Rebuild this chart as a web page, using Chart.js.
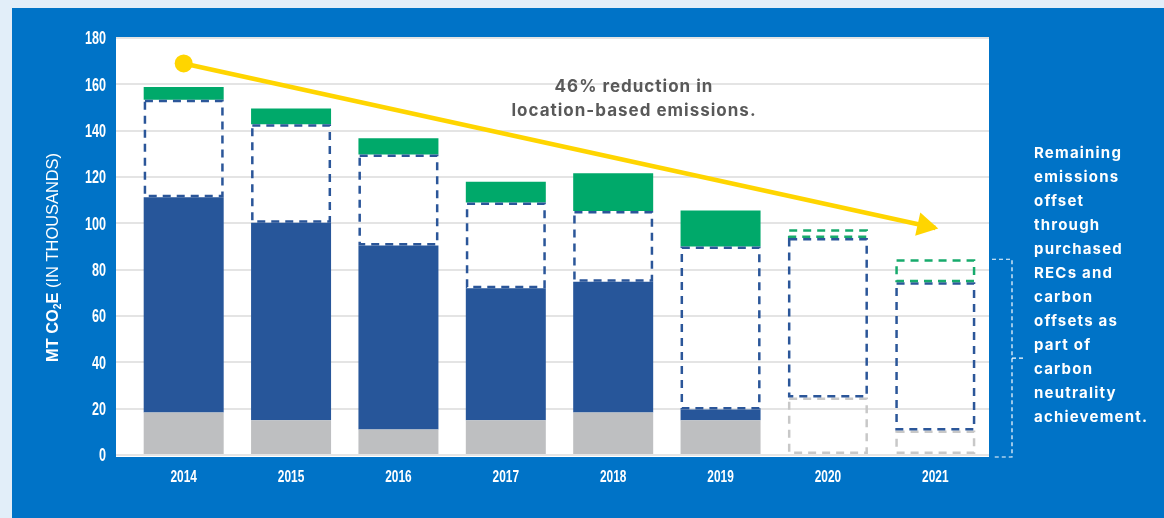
<!DOCTYPE html>
<html>
<head>
<meta charset="utf-8">
<script src="https://cdn.jsdelivr.net/npm/chart.js@4.4.0/dist/chart.umd.min.js"></script>
<style>
html,body{margin:0;padding:0;background:#E2EEF9;}
#wrap{position:relative;width:1164px;height:518px;}
canvas{display:block;}
</style>
</head>
<body>
<div id="wrap"><canvas id="c" width="1164" height="518"></canvas></div>
<script>
// ---- data (MT CO2e, thousands) ----
const years = ['2014','2015','2016','2017','2018','2019','2020','2021'];
const yMin = 0, yMax = 180, yStep = 20;
const grayActual     = [18.3, 15, 11, 15, 18.3, 15, null, null];
const grayProjected  = [null, null, null, null, null, null, 24.8, 10.6];
const navyActual     = [93, 85.3, 79.4, 57, 56.5, 4.6, null, null];
const navyOutline    = [42, 42.5, 39.3, 37, 30.5, 70.4, 68.9, 64];
const greenActual    = [5.5, 6.8, 7, 9, 16.3, 15.5, null, null];
const greenProjected = [null, null, null, null, null, null, 3.7, 9.9];
const trendArrow     = [169, null, null, null, null, null, null, 98];
const annotationLines = ['46% reduction in', 'location-based emissions.'];
const sideNoteLines = ['Remaining', 'emissions', 'offset', 'through', 'purchased', 'RECs and', 'carbon', 'offsets as', 'part of', 'carbon', 'neutrality', 'achievement.'];
const yTitleParts = [
  {text: 'MT CO', weight: 'bold', size: 16, dy: 0},
  {text: '2', weight: 'bold', size: 10, dy: 4},
  {text: 'E', weight: 'bold', size: 16, dy: 0},
  {text: ' (IN THOUSANDS)', weight: 'normal', size: 16, dy: 0}
];

const SANS = "'Liberation Sans', Arial, sans-serif";
const CONDENSE = 0.72;
const C = {
  page: '#E2EEF9', blue: '#0073C7', gray: '#BEBFC1', navy: '#27569A', green: '#00A96A',
  grayDash: '#C8C8C8', navyDash: '#2B5699', greenDash: '#17AA6C', yellow: '#FFD500', grid: '#E4E4E4'
};

function condensedText(ctx, text, x, y, align, font, sx) {
  ctx.save();
  ctx.font = font;
  ctx.textAlign = align;
  ctx.textBaseline = 'middle';
  ctx.translate(x, y);
  ctx.scale(sx, 1);
  ctx.fillText(text, 0, 0);
  ctx.restore();
}

const deco = {
  id: 'deco',
  beforeDraw(chart) {
    const {ctx, chartArea: a} = chart;
    ctx.save();
    ctx.fillStyle = C.page; ctx.fillRect(0, 0, chart.width, chart.height);
    ctx.fillStyle = C.blue; ctx.fillRect(12, 8, chart.width - 12, chart.height - 8);
    ctx.fillStyle = '#FFFFFF';
    ctx.fillRect(a.left - 14, a.top - 1, a.right - a.left + 14, a.bottom - a.top + 3);
    ctx.restore();
  },
  afterDatasetsDraw(chart) {
    const ctx = chart.ctx;
    ctx.save();
    // dashed outline boxes
    chart.data.datasets.forEach((ds, i) => {
      if (!ds.outline) return;
      const meta = chart.getDatasetMeta(i);
      meta.data.forEach((el, j) => {
        if (ds.data[j] == null || !ds.data[j]) return;
        const p = el.getProps(['x', 'y', 'base', 'width'], true);
        const lw = 2.5;
        const top = Math.min(p.y, p.base), bot = Math.max(p.y, p.base);
        ctx.lineWidth = lw;
        ctx.strokeStyle = ds.outline;
        ctx.setLineDash([8, 6]);
        ctx.strokeRect(p.x - p.width / 2 + lw / 2, top + lw / 2, p.width - lw, bot - top - lw);
      });
    });
    ctx.setLineDash([]);
    // arrow head on trend line
    const li = chart.data.datasets.findIndex(d => d.isArrow);
    const meta = chart.getDatasetMeta(li);
    const pts = meta.data.filter((el, j) => trendArrow[j] != null);
    const a = pts[0], b = pts[pts.length - 1];
    const dx = b.x - a.x, dy = b.y - a.y, L = Math.hypot(dx, dy);
    const ux = dx / L, uy = dy / L;
    const tipX = b.x + ux * 3, tipY = b.y + uy * 3;
    const bx = tipX - ux * 21, by = tipY - uy * 21;
    ctx.fillStyle = C.yellow;
    ctx.beginPath();
    ctx.moveTo(tipX, tipY);
    ctx.lineTo(bx - uy * 12, by + ux * 12);
    ctx.lineTo(bx + uy * 12, by - ux * 12);
    ctx.closePath();
    ctx.fill();
    ctx.restore();
  },
  afterDraw(chart) {
    const {ctx, chartArea: a, scales} = chart;
    ctx.save();
    // axis tick labels (condensed) from the library's scales
    ctx.fillStyle = '#FFFFFF';
    scales.y.ticks.forEach(t => {
      condensedText(ctx, String(t.value), a.left - 24, scales.y.getPixelForValue(t.value) + 1.5, 'right', `bold 17.5px ${SANS}`, CONDENSE);
    });
    scales.x.ticks.forEach((t, i) => {
      condensedText(ctx, years[t.value ?? i], scales.x.getPixelForTick(i), a.bottom + 22, 'center', `bold 16.5px ${SANS}`, CONDENSE);
    });
    // center annotation
    ctx.fillStyle = '#595959';
    ctx.font = "bold 17px Inter, 'Open Sans', sans-serif";
    if ('letterSpacing' in ctx) ctx.letterSpacing = '1px';
    ctx.textAlign = 'center';
    ctx.textBaseline = 'middle';
    annotationLines.forEach((t, i) => ctx.fillText(t, 634, 87 + i * 23.5));
    // side note
    ctx.fillStyle = '#FFFFFF';
    ctx.font = "bold 15px Inter, 'Open Sans', sans-serif";
    if ('letterSpacing' in ctx) ctx.letterSpacing = '1.2px';
    ctx.textAlign = 'left';
    sideNoteLines.forEach((t, i) => ctx.fillText(t, 1034, 153 + i * 24));
    if ('letterSpacing' in ctx) ctx.letterSpacing = '0px';
    // bracket
    const y0 = scales.y.getPixelForValue(0) + 2;
    const yTop = scales.y.getPixelForValue(navyOutline[7] + grayProjected[7] + greenProjected[7]);
    const xL = a.right + 3, xR = a.right + 23;
    const yMid = (y0 + yTop) / 2;
    ctx.strokeStyle = '#FFFFFF';
    ctx.lineWidth = 1.2;
    ctx.setLineDash([4, 3]);
    ctx.beginPath();
    ctx.moveTo(xL, yTop); ctx.lineTo(xR, yTop); ctx.lineTo(xR, y0); ctx.lineTo(xL, y0);
    ctx.moveTo(xR, yMid); ctx.lineTo(xR + 11, yMid);
    ctx.stroke();
    ctx.setLineDash([]);
    // y title
    ctx.translate(54, 257.5);
    ctx.rotate(-Math.PI / 2);
    ctx.textAlign = 'left';
    ctx.textBaseline = 'middle';
    let total = 0;
    const widths = yTitleParts.map(p => {
      ctx.font = `${p.weight} ${p.size}px ${SANS}`;
      const w = ctx.measureText(p.text).width; total += w; return w;
    });
    const sx = 209 / total;
    ctx.scale(sx, 1);
    let x = -total / 2;
    yTitleParts.forEach((p, i) => {
      ctx.font = `${p.weight} ${p.size}px ${SANS}`;
      ctx.fillText(p.text, x, p.dy);
      x += widths[i];
    });
    ctx.restore();
  }
};

const barBase = {type: 'bar', stack: 'a', order: 1, borderWidth: 0, barPercentage: 0.745, categoryPercentage: 1};

new Chart(document.getElementById('c'), {
  type: 'bar',
  data: {
    labels: years,
    datasets: [
      {...barBase, label: 'Gray', data: grayActual, backgroundColor: C.gray},
      {...barBase, label: 'Gray projected', data: grayProjected, backgroundColor: 'rgba(0,0,0,0)', outline: C.grayDash},
      {...barBase, label: 'Navy', data: navyActual, backgroundColor: C.navy},
      {...barBase, label: 'Navy outline', data: navyOutline, backgroundColor: 'rgba(0,0,0,0)', outline: C.navyDash},
      {...barBase, label: 'Green', data: greenActual, backgroundColor: C.green},
      {...barBase, label: 'Green projected', data: greenProjected, backgroundColor: 'rgba(0,0,0,0)', outline: C.greenDash},
      {type: 'line', label: 'Trend', isArrow: true, stack: 'arrow', order: 0, data: trendArrow, spanGaps: true,
       borderColor: C.yellow, borderWidth: 4.5, backgroundColor: C.yellow,
       pointRadius: ctx => ctx.dataIndex === 0 ? 9 : 0, pointHoverRadius: 0, pointBorderWidth: 0, clip: false}
    ]
  },
  options: {
    responsive: false,
    animation: false,
    events: [],
    layout: {padding: {left: 0, top: 38, right: 175, bottom: 23}},
    plugins: {legend: {display: false}, tooltip: {enabled: false}},
    scales: {
      x: {
        stacked: true,
        grid: {display: false, drawTicks: false},
        border: {display: false},
        ticks: {display: false},
        afterFit: s => { s.height = 40; }
      },
      y: {
        stacked: true,
        min: yMin, max: yMax,
        grid: {color: C.grid, lineWidth: 2, drawTicks: true, tickLength: 14, tickColor: C.grid},
        border: {display: false},
        ticks: {stepSize: yStep, display: false},
        afterFit: s => { s.width = 130; }
      }
    }
  },
  plugins: [deco]
});
</script>
</body>
</html>
